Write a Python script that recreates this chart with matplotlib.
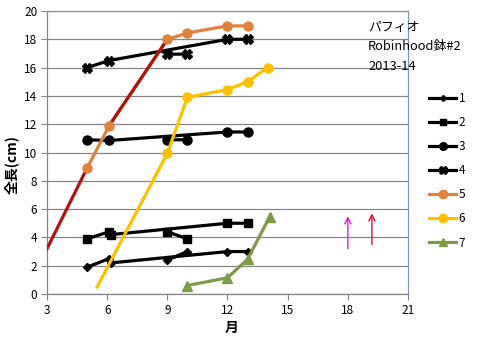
import numpy as np
import matplotlib
matplotlib.use("Agg")
import matplotlib.pyplot as plt
from matplotlib.lines import Line2D

plt.rcParams['font.family'] = ['Noto Sans CJK JP', 'DejaVu Sans']

nan = np.nan

# Months (x) and total length in cm (y) for each plant.
# Gaps (nan) split a series into separately connected runs.
s1_month = [5, 6.1, 6.2, 12, 13, nan, 9, 10]
s1_len = [1.9, 2.5, 2.2, 3.0, 3.0, nan, 2.4, 3.0]

s2_month = [5, 6.1, 6.2, 12, 13, nan, 9, 10]
s2_len = [3.9, 4.4, 4.2, 5.0, 5.0, nan, 4.4, 3.9]

s3_month = [5, 6.1, 12, 13, nan, 9, 10]
s3_len = [10.9, 10.85, 11.45, 11.45, nan, 10.9, 10.9]

s4_month = [5, 6.1, 12, 13, nan, 9, 10]
s4_len = [16.0, 16.5, 18.0, 18.0, nan, 16.95, 16.95]

s5_month = [5, 6.1, 9, 10, 12, 13]
s5_len = [8.9, 11.9, 18.0, 18.45, 18.95, 18.95]

# series 6 starts from an unmarked point
s6_month = [5.5, 9, 10, 12, 13, 14]
s6_len = [0.5, 9.95, 13.9, 14.45, 15.0, 16.0]

s7_month = [10, 12, 13, 14.1]
s7_len = [0.6, 1.15, 2.45, 5.45]

# growth guide drawn over series 5
guide_month = [3, 5, nan, 6.1, 9]
guide_len = [3.2, 8.9, nan, 11.9, 18.0]

# upward arrows: (month, tail, head)
arrow_month = [18.0, 19.2]
arrow_tail = [3.2, 3.5]
arrow_head = [5.5, 5.7]
arrow_color = ['#E01BE0', '#E0102A']

labels = ['1', '2', '3', '4', '5', '6', '7']
note_lines = ['パフィオ', 'Robinhood鉢#2', '2013-14']

x_ticks = [3, 6, 9, 12, 15, 18, 21]
y_ticks = list(range(0, 21, 2))

BLACK = '#000000'
ORANGE = '#E0823E'
YELLOW = '#FFC000'
GREEN = '#7F9A48'
RED = '#B01212'
GRID = '#868686'
FRAME = '#7F93B5'

fig = plt.figure(figsize=(4.82, 3.41), dpi=100)
ax = fig.add_axes([47 / 482, 1 - 294 / 341, (408 - 47) / 482, (294 - 11) / 341])

lw = 2.3
ax.plot(s1_month, s1_len, color=BLACK, lw=lw, marker='D', ms=3.8, zorder=3)
ax.plot(s2_month, s2_len, color=BLACK, lw=lw, marker='s', ms=5.5, zorder=3)
ax.plot(s3_month, s3_len, color=BLACK, lw=lw, marker='o', ms=6.5, zorder=3)
ax.plot(s4_month, s4_len, color=BLACK, lw=lw, marker='X', ms=7, zorder=3)
ax.plot(s5_month, s5_len, color=ORANGE, lw=lw, zorder=3)
ax.plot(guide_month, guide_len, color=RED, lw=lw, zorder=4)
ax.plot(s5_month, s5_len, ls='none', marker='o', ms=6.5, color=ORANGE, zorder=5)
ax.plot(s6_month, s6_len, color=YELLOW, lw=lw, marker='o', ms=6.5,
        markevery=list(range(1, len(s6_month))), zorder=3)
ax.plot(s7_month, s7_len, color=GREEN, lw=lw, marker='^', ms=7, zorder=3)

for m, t, h, c in zip(arrow_month, arrow_tail, arrow_head, arrow_color):
    ax.annotate('', xy=(m, h), xytext=(m, t),
                arrowprops=dict(arrowstyle='->', color=c, lw=1.0,
                                mutation_scale=11, shrinkA=0, shrinkB=0))

ax.set_xlim(3, 21)
ax.set_ylim(0, 20)
ax.set_xticks(x_ticks)
ax.set_yticks(y_ticks)
ax.tick_params(axis='both', labelsize=8.5, length=4, width=0.8, color=GRID, pad=3)
ax.yaxis.grid(True, color=GRID, lw=0.9)
ax.set_axisbelow(True)
for side in ['left', 'bottom']:
    ax.spines[side].set_color(GRID)
    ax.spines[side].set_linewidth(0.9)
for side in ['top', 'right']:
    ax.spines[side].set_color(FRAME)
    ax.spines[side].set_linewidth(0.9)

fig.text(232 / 482, 1 - 328 / 341, '月', fontsize=10, fontweight='bold',
         ha='center', va='center')
fig.text(12 / 482, 1 - 165 / 341, '全長(cm)', fontsize=10, fontweight='bold',
         rotation=90, ha='center', va='center')

for i, line in enumerate(note_lines):
    fig.text(368 / 482, 1 - (27 + 19.5 * i) / 341, line, fontsize=9.3,
             ha='left', va='center')

handles = [
    Line2D([], [], color=BLACK, lw=lw, marker='D', ms=3),
    Line2D([], [], color=BLACK, lw=lw, marker='s', ms=5),
    Line2D([], [], color=BLACK, lw=lw, marker='o', ms=5.5),
    Line2D([], [], color=BLACK, lw=lw, marker='X', ms=6),
    Line2D([], [], color=ORANGE, lw=lw, marker='o', ms=6),
    Line2D([], [], color=YELLOW, lw=lw, marker='o', ms=6),
    Line2D([], [], color=GREEN, lw=lw, marker='^', ms=6),
]
fig.legend(handles, labels, loc='upper left',
           bbox_to_anchor=(429 / 482, 1 - 92 / 341), frameon=False,
           fontsize=8.5, handlelength=2.3, handletextpad=0.2,
           labelspacing=0.94, borderpad=0, borderaxespad=0)

fig.savefig('out.png', dpi=100)
